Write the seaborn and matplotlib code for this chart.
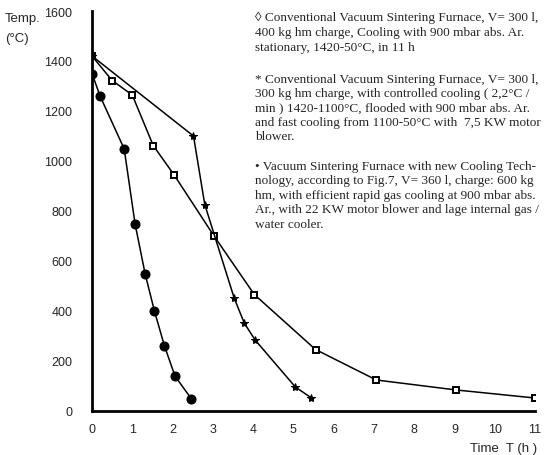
import matplotlib
matplotlib.use("Agg")
import matplotlib.pyplot as plt
import seaborn as sns
import pandas as pd

# conventional furnace, stationary cooling (open squares)
conv_t = [0, 0.5, 1.0, 1.52, 2.04, 3.03, 4.03, 5.55, 7.06, 9.05, 11.0]
conv_temp = [1420, 1322, 1264, 1062, 944, 700, 466, 246, 124, 84, 52]

# conventional furnace, controlled cooling + motor blower (stars)
ctrl_t = [0, 2.52, 2.8, 3.53, 3.78, 4.05, 5.05, 5.45]
ctrl_temp = [1420, 1100, 826, 452, 352, 284, 96, 52]

# new cooling technology (filled circles)
new_t = [0, 0.2, 0.8, 1.07, 1.32, 1.55, 1.8, 2.06, 2.47]
new_temp = [1350, 1260, 1048, 748, 548, 400, 260, 140, 48]

x_ticks = list(range(0, 12))
y_ticks = list(range(0, 1601, 200))

note_conv = ("\u25ca Conventional Vacuum Sintering Furnace, V= 300 l,\n"
             "400 kg hm charge, Cooling with 900 mbar abs. Ar.\n"
             "stationary, 1420-50\u00b0C, in 11 h")
note_ctrl = ("* Conventional Vacuum Sintering Furnace, V= 300 l,\n"
             "300 kg hm charge, with controlled cooling ( 2,2\u00b0C /\n"
             "min ) 1420-1100\u00b0C, flooded with 900 mbar abs. Ar.\n"
             "and fast cooling from 1100-50\u00b0C with  7,5 KW motor\n"
             "blower.")
note_new = ("\u2022 Vacuum Sintering Furnace with new Cooling Tech-\n"
            "nology, according to Fig.7, V= 360 l, charge: 600 kg\n"
            "hm, with efficient rapid gas cooling at 900 mbar abs.\n"
            "Ar., with 22 KW motor blower and lage internal gas /\n"
            "water cooler.")

sns.set_style("white")
plt.rcParams['font.family'] = ['Liberation Sans', 'DejaVu Sans']

fig = plt.figure(figsize=(5.44, 4.56), dpi=100)
ax = fig.add_axes([92 / 544, 44 / 456, 443 / 544, 400 / 456])

conv = pd.DataFrame({"t": conv_t, "temp": conv_temp})
ctrl = pd.DataFrame({"t": ctrl_t, "temp": ctrl_temp})
new = pd.DataFrame({"t": new_t, "temp": new_temp})

sns.lineplot(data=conv, x="t", y="temp", ax=ax, sort=False, color="black", lw=1.1,
             marker="s", markersize=5, markerfacecolor="white", markeredgecolor="black",
             markeredgewidth=1.4)
sns.lineplot(data=ctrl, x="t", y="temp", ax=ax, sort=False, color="black", lw=1.1,
             marker="*", markersize=6, markeredgecolor="black")
sns.lineplot(data=new, x="t", y="temp", ax=ax, sort=False, color="black", lw=1.1,
             marker="o", markersize=6.5, markeredgecolor="black")

ax.set_xlim(0, 11)
ax.set_ylim(0, 1600)
ax.set_xticks(x_ticks)
ax.set_yticks(y_ticks)
ax.tick_params(axis="y", length=0, labelsize=9, pad=14)
ax.tick_params(axis="x", length=0, labelsize=9, pad=9)
ax.set_xlabel("")
ax.set_ylabel("")
for s in ["top", "right"]:
    ax.spines[s].set_visible(False)
for s in ["left", "bottom"]:
    ax.spines[s].set_linewidth(2)
    ax.spines[s].set_color("black")

fig.text(5 / 544, 1 - 19 / 456, "Temp.", fontsize=9.5, va="center", ha="left")
fig.text(5 / 544, 1 - 39 / 456, "(\u00b0C)", fontsize=9.5, va="center", ha="left")
fig.text(537 / 544, 1 - 449 / 456, "Time  T (h )", fontsize=9.5, va="center", ha="right")

serif = ['Liberation Serif', 'DejaVu Serif']
fig.text(255 / 544, 1 - 12 / 456, note_conv, family=serif, fontsize=9.5,
         va="top", ha="left", linespacing=1.32)
fig.text(255 / 544, 1 - 74 / 456, note_ctrl, family=serif, fontsize=9.5,
         va="top", ha="left", linespacing=1.25)
fig.text(255 / 544, 1 - 161 / 456, note_new, family=serif, fontsize=9.5,
         va="top", ha="left", linespacing=1.27)

fig.savefig("out.png", dpi=100)
